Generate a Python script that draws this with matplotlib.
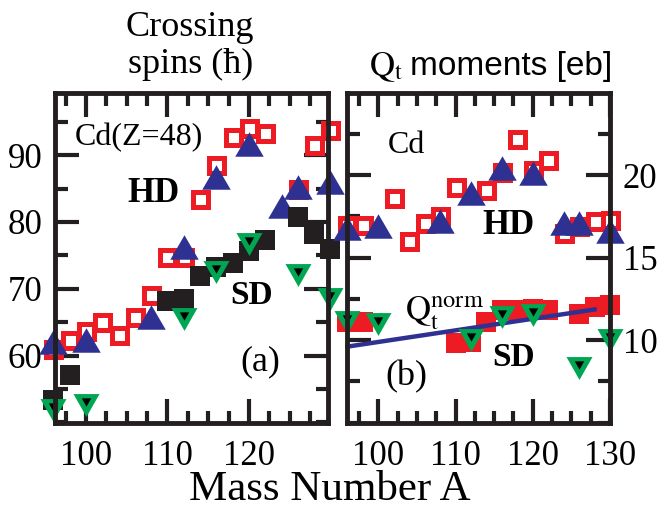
import matplotlib
matplotlib.use("Agg")
import matplotlib.pyplot as plt
from matplotlib.markers import MarkerStyle
from matplotlib.ticker import MultipleLocator
from matplotlib.transforms import offset_copy

plt.rcParams.update({
    "font.family": "Liberation Serif",
    "mathtext.fontset": "stix",
    "axes.linewidth": 3.5,
    "xtick.labelsize": 25,
    "ytick.labelsize": 25,
})

RED = "#ED1C24"
BLUE = "#2E3192"
GREEN = "#00A651"
INK = "#231F20"

# ---- panel (a): crossing spins ----
hd_spin_mass = [96, 98, 100, 102, 104, 106, 108, 110, 112, 114, 116, 118, 120, 122, 126, 128, 130]
hd_spin_exp = [61.0, 62.3, 63.6, 65.0, 63.1, 65.7, 69.1, 74.8, 74.8, 83.4, 88.5, 92.75, 94.0, 93.35, 84.9, 91.5, 93.75]
hd_spin_calc_mass = [96, 100, 108, 112, 116, 120, 124, 126, 130]
hd_spin_calc = [62.1, 62.3, 65.8, 76.2, 86.7, 91.7, 82.4, 85.2, 86.0]
sd_spin_mass = [96, 98, 110, 112, 114, 116, 118, 120, 122, 126, 128, 130]
sd_spin_exp = [53.3, 57.1, 68.2, 68.5, 71.9, 73.3, 73.8, 75.6, 77.3, 80.7, 78.2, 76.0]
sd_spin_calc_mass = [96, 100, 112, 116, 120, 126, 130]
sd_spin_calc = [51.8, 52.6, 65.4, 72.5, 76.7, 72.0, 68.5]

# ---- panel (b): transition quadrupole moments ----
hd_q_mass = [96, 98, 102, 104, 106, 108, 110, 114, 116, 118, 120, 122, 124, 126, 128, 130]
hd_q_exp = [17.0, 17.0, 18.6, 16.0, 17.1, 17.5, 19.3, 19.1, 20.2, 22.2, 20.3, 20.9, 16.5, 16.9, 17.2, 17.3]
hd_q_calc_mass = [96, 100, 108, 112, 116, 120, 124, 126, 130]
hd_q_calc = [16.8, 16.9, 17.2, 18.9, 20.4, 20.1, 17.1, 17.1, 16.6]
sd_q_mass = [96, 98, 110, 112, 114, 116, 118, 120, 122, 126, 128, 130]
sd_q_exp = [11.1, 11.1, 9.8, 9.9, 11.1, 11.8, 11.8, 11.9, 11.8, 11.6, 12.0, 12.1]
sd_q_calc_mass = [96, 100, 112, 116, 120, 126, 130]
sd_q_calc = [11.1, 11.0, 10.0, 11.4, 11.5, 8.3, 10.0]
qnorm_mass = [96, 128]
qnorm = [9.6, 11.85]

tri_up = MarkerStyle([(0, 0.86), (-1, -0.86), (1, -0.86)])
tri_down = MarkerStyle([(0, -0.88), (-1, 0.88), (1, 0.88)])


def draw_set(ax, hd_x, hd_y, hdc_x, hdc_y, sd_x, sd_y, sdc_x, sdc_y, sd_color,
             line=None):
    kw = dict(linestyle="none", clip_on=False)
    ax.plot(hd_x, hd_y, marker="s", ms=10.8, mew=3.6, mec=RED, mfc="white", **kw)
    ax.plot(hdc_x, hdc_y, marker=tri_up, ms=20.5, mew=0, mfc=BLUE, **kw)
    ax.plot(sd_x, sd_y, marker="s", ms=14.4, mew=0, mfc=sd_color, **kw)
    if line is not None:
        ax.plot(line[0], line[1], color=BLUE, lw=3.2, clip_on=False)
    # green triangle with a small dark core sitting a little above its middle
    ax.plot(sdc_x, sdc_y, marker=tri_down, ms=18.7, mew=0, mfc=GREEN, **kw)
    core = offset_copy(ax.transData, fig=ax.figure, x=0, y=3, units="dots")
    ax.plot(sdc_x, sdc_y, marker=tri_down, ms=6.8, mew=0, mfc="black",
            transform=core, **kw)


def style_axes(ax, xmajor, ymajor):
    ax.xaxis.set_major_locator(MultipleLocator(xmajor))
    ax.xaxis.set_minor_locator(MultipleLocator(2.5))
    ax.yaxis.set_major_locator(MultipleLocator(ymajor))
    ax.yaxis.set_minor_locator(MultipleLocator(ymajor / 2))
    ax.tick_params(which="both", direction="in", top=True, right=True,
                   width=3, color=INK)
    ax.tick_params(which="major", length=17)
    ax.tick_params(which="minor", length=9)
    ax.tick_params(axis="x", pad=12)
    ax.tick_params(axis="y", pad=9)
    for s in ax.spines.values():
        s.set_color(INK)


fig = plt.figure(figsize=(6.6, 5.08), dpi=100)
W, H = 660, 508
ax_a = fig.add_axes([55 / W, 1 - 423 / H, 273 / W, 330 / H])
ax_b = fig.add_axes([346.7 / W, 1 - 423 / H, 263.3 / W, 330 / H])

draw_set(ax_a, hd_spin_mass, hd_spin_exp, hd_spin_calc_mass, hd_spin_calc,
         sd_spin_mass, sd_spin_exp, sd_spin_calc_mass, sd_spin_calc, INK)
draw_set(ax_b, hd_q_mass, hd_q_exp, hd_q_calc_mass, hd_q_calc,
         sd_q_mass, sd_q_exp, sd_q_calc_mass, sd_q_calc, RED,
         line=(qnorm_mass, qnorm))

ax_a.set_xlim(96.2, 129.7)
ax_a.set_ylim(49.9, 99.3)
style_axes(ax_a, 10, 10)
ax_a.set_xticks([100, 110, 120])
ax_a.set_yticks([60, 70, 80, 90])

ax_b.set_xlim(95.9, 129.9)
ax_b.set_ylim(4.97, 24.97)
style_axes(ax_b, 10, 5)
ax_b.set_xticks([100, 110, 120, 130])
ax_b.set_yticks([10, 15, 20])
ax_b.tick_params(axis="y", labelleft=False, labelright=True)

# in-panel labels
ax_a.text(0.308, 0.864, "Cd(Z=48)", transform=ax_a.transAxes, fontsize=23,
          ha="center", va="center")
ax_a.text(0.361, 0.696, "HD", transform=ax_a.transAxes, fontsize=25,
          fontweight="bold", ha="center", va="center")
ax_a.text(0.720, 0.386, "SD", transform=ax_a.transAxes, fontsize=24,
          fontweight="bold", ha="center", va="center")
ax_a.text(0.751, 0.186, "(a)", transform=ax_a.transAxes, fontsize=26,
          ha="center", va="center")

ax_b.text(0.228, 0.842, "Cd", transform=ax_b.transAxes, fontsize=23,
          ha="center", va="center")
ax_b.text(0.614, 0.600, "HD", transform=ax_b.transAxes, fontsize=25,
          fontweight="bold", ha="center", va="center")
ax_b.text(0.633, 0.200, "SD", transform=ax_b.transAxes, fontsize=24,
          fontweight="bold", ha="center", va="center")
ax_b.text(0.228, 0.140, "(b)", transform=ax_b.transAxes, fontsize=26,
          ha="center", va="center")
ax_b.text(0.222, 0.312, r"$\mathrm{Q}_\mathrm{t}^\mathrm{norm}$",
          transform=ax_b.transAxes, fontsize=25, ha="left", va="baseline")

# headers and common x label
fig.text(190 / W, 1 - 36 / H, "Crossing", fontsize=26, ha="center", va="baseline")
fig.text(191 / W, 1 - 73 / H, "spins (\u0127)", fontsize=26, ha="center", va="baseline")
fig.text(369 / W, 1 - 75 / H, r"$\mathrm{Q}_\mathrm{t}$", fontsize=25,
         ha="left", va="baseline")
fig.text(612 / W, 1 - 75 / H, "moments [eb]", fontsize=24,
         family="Liberation Sans", ha="right", va="baseline")
fig.text(330 / W, 1 - 500 / H, "Mass Number A", fontsize=31,
         ha="center", va="baseline")

fig.savefig("out.png", dpi=100)
